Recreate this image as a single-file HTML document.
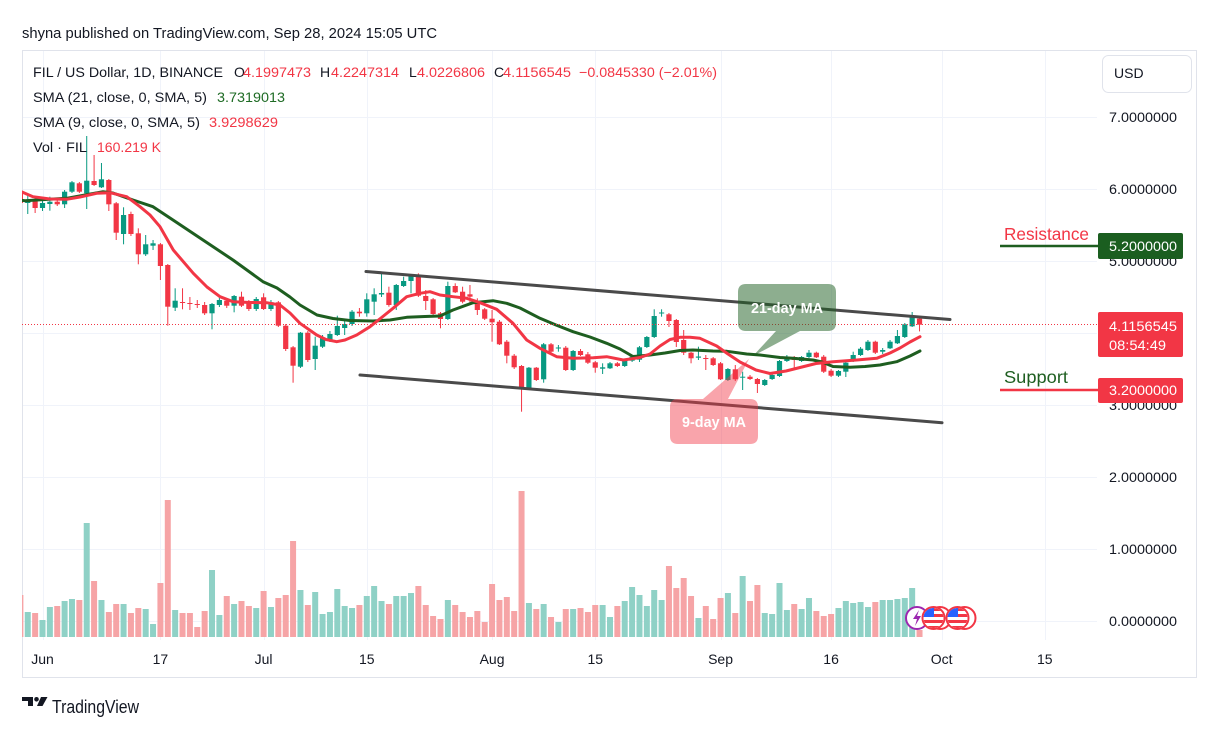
<!DOCTYPE html>
<html><head><meta charset="utf-8">
<style>
html,body{margin:0;padding:0;background:#fff;width:1220px;height:740px;overflow:hidden;}
svg{display:block;font-family:"Liberation Sans",Arial,sans-serif;}
</style></head>
<body>
<svg id="c" width="1220" height="740" viewBox="0 0 1220 740" xmlns="http://www.w3.org/2000/svg">
<defs>
<clipPath id="plot"><rect x="22" y="50" width="1075" height="590"/></clipPath>
<clipPath id="fc1"><circle cx="933.5" cy="618" r="10"/></clipPath>
<clipPath id="fc2"><circle cx="957.5" cy="618" r="10"/></clipPath>
</defs>
<rect width="1220" height="740" fill="#fff"/>
<text x="22" y="38" font-size="14.5" fill="#131722" textLength="415" lengthAdjust="spacingAndGlyphs">shyna published on TradingView.com, Sep 28, 2024 15:05 UTC</text>
<rect x="22.5" y="50.5" width="1174" height="627" fill="none" stroke="#e0e3eb"/>
<g id="grid" stroke="#f0f3fa" stroke-width="1"></g>
<g id="vol" clip-path="url(#plot)"></g>
<g id="cdl" clip-path="url(#plot)"></g>
<g clip-path="url(#plot)" fill="none" stroke-linejoin="round" stroke-linecap="round">
<polyline id="ma21" stroke="#1e5e20" stroke-width="3"/>
<polyline id="ma9" stroke="#f23645" stroke-width="3"/>
</g>
<line x1="22" y1="324.5" x2="1097" y2="324.5" stroke="#f23645" stroke-width="1" stroke-dasharray="1,2"/>
<!-- channel -->
<line x1="366" y1="271.5" x2="950" y2="319.5" stroke="#4a4a4a" stroke-width="3" stroke-linecap="round"/>
<line x1="360" y1="375" x2="942" y2="422.7" stroke="#4a4a4a" stroke-width="3" stroke-linecap="round"/>
<!-- callouts -->
<g opacity="0.5" fill="#1b5e20">
<path d="M746 284 H828 Q836 284 836 292 V323 Q836 331 828 331 H800 L753 356 L776 331 H746 Q738 331 738 323 V292 Q738 284 746 284 Z"/>
</g>
<text x="787" y="313" font-size="15" font-weight="bold" fill="#fff" text-anchor="middle" textLength="72" lengthAdjust="spacingAndGlyphs">21-day MA</text>
<g opacity="0.45" fill="#f23645">
<path d="M678 399 H703 L749 359 L728 399 H750 Q758 399 758 407 V436 Q758 444 750 444 H678 Q670 444 670 436 V407 Q670 399 678 399 Z"/>
</g>
<text x="714" y="427" font-size="15" font-weight="bold" fill="#fff" text-anchor="middle" textLength="64" lengthAdjust="spacingAndGlyphs">9-day MA</text>
<!-- icons -->
<g>
<circle cx="917" cy="618" r="11" fill="#fff" stroke="#9c27b0" stroke-width="2"/>
<path d="M919 610 L913 619 H917 L915 626 L921 616 H917 Z" fill="#9c27b0"/>
<circle cx="940" cy="618" r="11" fill="#fff" stroke="#f23645" stroke-width="2"/>
<circle cx="933.5" cy="618" r="11" fill="#fff" stroke="#f23645" stroke-width="2"/>
<g clip-path="url(#fc1)">
<rect x="922" y="607" width="24" height="22" fill="#fff"/>
<rect x="922" y="608" width="24" height="3" fill="#f23645"/>
<rect x="922" y="614" width="24" height="3" fill="#f23645"/>
<rect x="922" y="620" width="24" height="3" fill="#f23645"/>
<rect x="922" y="626" width="24" height="3" fill="#f23645"/>
<rect x="922" y="607" width="12" height="10" fill="#2962ff"/>
</g>
<circle cx="964.5" cy="618" r="11" fill="#fff" stroke="#f23645" stroke-width="2"/>
<circle cx="957.5" cy="618" r="11" fill="#fff" stroke="#f23645" stroke-width="2"/>
<g clip-path="url(#fc2)">
<rect x="946" y="607" width="24" height="22" fill="#fff"/>
<rect x="946" y="608" width="24" height="3" fill="#f23645"/>
<rect x="946" y="614" width="24" height="3" fill="#f23645"/>
<rect x="946" y="620" width="24" height="3" fill="#f23645"/>
<rect x="946" y="626" width="24" height="3" fill="#f23645"/>
<rect x="946" y="607" width="12" height="10" fill="#2962ff"/>
</g>
</g>
<!-- legend -->
<g font-size="14" lengthAdjust="spacingAndGlyphs">
<text x="33" y="77" fill="#131722" textLength="190" lengthAdjust="spacingAndGlyphs">FIL / US Dollar, 1D, BINANCE</text>
<text x="234" y="77" fill="#131722">O</text>
<text x="243" y="77" fill="#f23645" textLength="68" lengthAdjust="spacingAndGlyphs">4.1997473</text>
<text x="320" y="77" fill="#131722">H</text>
<text x="331" y="77" fill="#f23645" textLength="68" lengthAdjust="spacingAndGlyphs">4.2247314</text>
<text x="409" y="77" fill="#131722">L</text>
<text x="417" y="77" fill="#f23645" textLength="68" lengthAdjust="spacingAndGlyphs">4.0226806</text>
<text x="494" y="77" fill="#131722">C</text>
<text x="503" y="77" fill="#f23645" textLength="68" lengthAdjust="spacingAndGlyphs">4.1156545</text>
<text x="579" y="77" fill="#f23645" textLength="138" lengthAdjust="spacingAndGlyphs">−0.0845330 (−2.01%)</text>
<text x="33" y="102" fill="#131722" textLength="174" lengthAdjust="spacingAndGlyphs">SMA (21, close, 0, SMA, 5)</text>
<text x="217" y="102" fill="#1e6b24" textLength="68" lengthAdjust="spacingAndGlyphs">3.7319013</text>
<text x="33" y="127" fill="#131722" textLength="167" lengthAdjust="spacingAndGlyphs">SMA (9, close, 0, SMA, 5)</text>
<text x="209" y="127" fill="#f23645" textLength="69" lengthAdjust="spacingAndGlyphs">3.9298629</text>
<text x="33" y="152" fill="#131722" textLength="54" lengthAdjust="spacingAndGlyphs">Vol · FIL</text>
<text x="97" y="152" fill="#f23645" textLength="64" lengthAdjust="spacingAndGlyphs">160.219 K</text>
</g>
<!-- price axis -->
<g id="paxis" font-size="14" fill="#131722"></g>
<rect x="1102.5" y="55.5" width="89" height="37" rx="6" fill="#fff" stroke="#e0e3eb"/>
<text x="1114" y="78" font-size="14" fill="#131722">USD</text>
<!-- resistance / support -->
<text x="1004" y="240" font-size="17.5" fill="#f23645" textLength="85" lengthAdjust="spacingAndGlyphs">Resistance</text>
<line x1="1000" y1="246" x2="1098" y2="246" stroke="#1e5e20" stroke-width="2.5"/>
<rect x="1098" y="233" width="85" height="26" rx="2" fill="#1b5e20"/>
<text x="1109" y="251" font-size="14" fill="#fff" textLength="68" lengthAdjust="spacingAndGlyphs">5.2000000</text>
<rect x="1098" y="312" width="85" height="45" rx="2" fill="#f23645"/>
<text x="1109" y="331" font-size="14" fill="#fff" textLength="68" lengthAdjust="spacingAndGlyphs">4.1156545</text>
<text x="1109" y="350" font-size="14" fill="#fff" textLength="57" lengthAdjust="spacingAndGlyphs">08:54:49</text>
<text x="1004" y="383" font-size="17.5" fill="#1e5e20" textLength="64" lengthAdjust="spacingAndGlyphs">Support</text>
<line x1="1000" y1="390" x2="1098" y2="390" stroke="#f23645" stroke-width="2.5"/>
<rect x="1098" y="378" width="85" height="25" rx="2" fill="#f23645"/>
<text x="1109" y="395" font-size="14" fill="#fff" textLength="68" lengthAdjust="spacingAndGlyphs">3.2000000</text>
<!-- time axis -->
<g id="taxis" font-size="14" fill="#131722" text-anchor="middle"></g>
<!-- logo -->
<path d="M22 697 H33 V706 H28 V701 H22 Z" fill="#131722"/>
<circle cx="36.5" cy="699.3" r="2.3" fill="#131722"/>
<path d="M41 697 H47.5 L42.5 706 H37 Z" fill="#131722"/>
<text x="52" y="713" font-size="18" fill="#131722" textLength="87" lengthAdjust="spacingAndGlyphs">TradingView</text>
</svg>
<script>
(function(){
var NS="http://www.w3.org/2000/svg";
function el(tag,attrs,parent,txt){var e=document.createElementNS(NS,tag);for(var k in attrs)e.setAttribute(k,attrs[k]);if(txt!==undefined)e.textContent=txt;parent.appendChild(e);return e;}
function X(d){return 42.5+d*7.37;}
var grid=document.getElementById('grid');
var days=[0,16,30,44,61,75,92,107,122,136];
var labs=["Jun","17","Jul","15","Aug","15","Sep","16","Oct","15"];
days.forEach(function(d){var x=Math.round(X(d))+0.5;el('line',{x1:x,y1:51,x2:x,y2:640},grid);});
for(var p=0;p<=7;p++){var y=Math.round(621-72*p)+0.5;el('line',{x1:23,y1:y,x2:1097,y2:y},grid);}
var ta=document.getElementById('taxis');
days.forEach(function(d,i){el('text',{x:X(d),y:664},ta,labs[i]);});
var pa=document.getElementById('paxis');
for(var p=0;p<=7;p++){var y=621-72*p;el('text',{x:1109,y:y+5,textLength:68,lengthAdjust:"spacingAndGlyphs"},pa,p+".0000000");}
var C=[
[-3,0,192,203,190,205],[-2,1,200,203,195,214],[-1,0,200.7,208,198,213],[0,1,203,208,200,211],
[1,1,201.7,204,196.7,210.7],[2,0,201.7,204.3,200,206],[3,1,191.7,204.3,190,208],[4,1,182.3,191.7,181,193],
[5,0,183.3,191.7,182,193],[6,1,180.7,193.3,136,209],[7,0,181,185,155,186],[8,1,179.3,187.3,163,188],
[9,0,180,204.3,179,211],[10,0,203.3,232.7,202,240],[11,1,215,234,207.3,244.3],[12,0,214,234,211.7,236],
[13,0,233.3,254.3,228.3,264.3],[14,1,244.3,254.3,235,256],[15,1,243.3,245.7,240,250],[16,0,244.3,266,243,280],
[17,0,265,306.7,264,325.7],[18,1,300.7,307.7,288.3,311],[19,0,302,303,288.3,309.3],[20,0,303,304,297,310],
[21,0,304,305,300,308],[22,0,305,313.3,302,315],[23,1,304,313.3,303,329.3],[24,1,300,305,296.7,307],
[25,0,300.7,305.7,298,308],[26,1,296,305.7,295,312.3],[27,0,296.7,305.7,291.7,307],[28,0,302.7,309,300,311],
[29,1,299,309,297,311],[30,0,297.3,309,293.3,310],[31,1,302.3,309,300,311],[32,0,302.3,325.7,301,327],
[33,0,325.7,349,324,351],[34,0,347.3,365.7,346,382.7],[35,1,332.7,366.7,332,368],[36,0,332.7,360,331,362],
[37,1,345.7,359,336.7,370],[38,1,337.7,346.7,335,348],[39,1,334,340,331,342],[40,1,326,335,315.7,336],
[41,1,324,328,321,335],[42,1,311.7,324,310,326],[43,0,311.7,313.3,308,316.7],[44,1,299.3,313.3,293.3,316.7],
[45,1,294.3,301.7,288.3,315],[46,1,293,294.5,273.3,297],[47,0,292.7,305,286.7,306.7],[48,1,285,305,284,310],
[49,1,281,286,276.7,287],[50,1,276,281,275,293.3],[51,0,275,295.7,273.3,297],[52,0,296,301,290,310],
[53,0,299.3,314,298,315],[54,0,313.3,319,312,328.3],[55,1,286,319,281.7,320],[56,0,286,292.3,283.3,293],
[57,0,291.7,301.7,286.7,303.3],[58,0,294.3,296.7,285,303.3],[59,0,301.7,310,298.3,315],[60,0,309.3,318.7,308,320],
[61,0,318.7,322.3,310,341.7],[62,0,321.7,344.3,320,345],[63,0,341.7,355.7,340,363.3],[64,0,355.7,367.3,354,369],
[65,0,366,388.3,365,411.7],[66,1,367.7,388.3,367,389],[67,0,367.7,380,367,381],[68,1,344.3,379.3,343,382.7],
[69,0,344.3,351.7,343,353],[70,1,347.5,348.5,345,351.7],[71,0,347.7,370,346,371],[72,1,351,370,350,371],
[73,0,351,355,349,356],[74,0,354.3,362.7,352,364],[75,0,362.3,367.7,361,372.7],[76,1,367.3,368.7,363.3,374],
[77,1,363.3,368.3,362,369],[78,0,363.3,366,362,367],[79,1,360,366,359,367],[80,1,356.7,360.7,355,362],
[81,1,347.3,359.7,346,362],[82,1,337,347,336,348],[83,1,316,337,309.3,338],[84,1,312.5,313.5,309.3,316.7],
[85,0,314.3,321,313,327],[86,0,320,342,319,347],[87,0,340,352.7,330,355],[88,0,352.7,358.3,352,363.3],
[89,1,356.5,357.7,346.7,360],[90,0,358,358.7,355,370],[91,0,358.3,365,357,366],[92,0,363.3,379.3,362,380],
[93,1,369,380,368,381],[94,0,369.3,379.3,365,381],[95,1,376.7,377.7,371.7,390],[96,0,376.7,379,375,380],
[97,0,379,384,378,393],[98,1,380,385,379,386],[99,1,375,379,374,380],[100,1,361,376,360,377],
[101,1,356.7,361,355,362],[102,0,357,360,356,368],[103,1,357,361,356,362],[104,1,352.7,357,350,358],
[105,0,352.7,357.3,351.7,358],[106,0,356.7,371.7,355,373],[107,0,370.7,375.7,369,377],[108,1,371,375.7,370,377],
[109,1,362.7,371.7,361,377],[110,1,355,361,351.7,362],[111,1,348.7,355,347,356],[112,1,341.7,350,340,351],
[113,0,341.7,352.7,340.7,354],[114,1,350,351.7,348,354],[115,1,341.7,348.3,340,349],[116,1,336,343.3,330,344],
[117,1,324.3,337,323,338],[118,1,317.3,326.3,312,327],[119,0,318.6,324.7,316.8,331.4]
];
var V=[595,612,613,620,607,606,601,599,600,523,581,600,612,604,604,613,608,609,624,583,500,610,613,613,627,611,570,615,596,604,601,606,608,591,607,598,595,541,590,605,592,614,612,589,606,608,605,596,586,601,604,596,596,593,586,605,616,619,600,605,612,617,611,622,584,600,597,611,491,603,609,604,617,622,609,609,608,612,605,605,617,606,601,587,595,606,590,600,566,588,578,596,618,606,619,598,593,613,576,601,585,613,614,583,610,604,609,598,611,616,614,608,601,603,602,607,602,600,600,599,598,588,630];
var vg=document.getElementById('vol'),cg=document.getElementById('cdl');
C.forEach(function(c,i){
 var d=c[0],x=X(d),g=c[1];
 var vt=V[i];
 el('rect',{x:(x-3).toFixed(2),y:vt,width:6,height:(637-vt),fill:g?'#8fd1c6':'#f6a4a6'},vg);
 var col=g?'#089981':'#f23645';
 el('rect',{x:(x-0.5).toFixed(2),y:c[4],width:1,height:(c[5]-c[4]).toFixed(2),fill:col},cg);
 var h=Math.max(1,c[3]-c[2]);
 el('rect',{x:(x-2.6).toFixed(2),y:c[2],width:5.2,height:h.toFixed(2),fill:col},cg);
});
var ma21=[[18,200],[25,200.7],[45,199.5],[66.7,198.3],[85,195],[103,191.7],[113,193],[133,200],[153,206.7],[173,220],[200,238],[233,260],[263,281.7],[277,288],[290,297],[300,305],[317,315],[333,318.5],[350,320.5],[373,321],[390,320],[406.7,317.3],[425,316.5],[440,316],[453,310],[473,302.7],[493,300.7],[506.7,303.3],[520,308],[540,318.3],[556,325],[573,331.7],[590,337],[606.7,343.3],[620,349],[633,356.5],[650,355],[665,353],[680,350.5],[693,350],[713,351],[727,351.3],[746.7,354],[760,355],[780,357.5],[793,358.3],[813,360],[822,362],[833,366.5],[850,367.3],[865,366.5],[880,365],[896.7,361.7],[910,356],[920,351]];
var ma9=[[18,191],[22,192],[33,196.7],[50,199],[66.7,199.3],[80,197],[96.7,193.3],[110,192.7],[126.7,196.7],[140,206.7],[150,215],[160,226.7],[173.3,250],[193.3,273.3],[207,287],[220,296.7],[233,301.7],[250,302.5],[266.7,302.7],[280,305],[290,313],[300,323.3],[316.7,335],[326,339.5],[336.7,341.7],[345,340],[356.7,335],[370,326.7],[381,318],[393,308.3],[406.7,296.7],[420,293.3],[430,291.7],[440,295],[453,296.7],[466.7,298.3],[480,302.7],[496.7,309.3],[513,323.3],[526.7,340],[540,348.3],[556.7,356.7],[573.3,358.3],[593.3,357.7],[606.7,356.7],[623.3,360],[640,357.5],[650,354],[660,346],[670,339.5],[680,337.3],[690,337.3],[700,338.3],[716.7,346],[728,354],[740,362],[756,370],[770,373.5],[786,371],[800,367.5],[816,363.5],[833,361.7],[856.7,360],[876.7,358.3],[890,353],[900,348],[910,342],[920,336.7]];
function pts(a){return a.map(function(p){return p[0]+','+p[1];}).join(' ');}
document.getElementById('ma21').setAttribute('points',pts(ma21));
document.getElementById('ma9').setAttribute('points',pts(ma9));
})();
</script>
</body></html>
